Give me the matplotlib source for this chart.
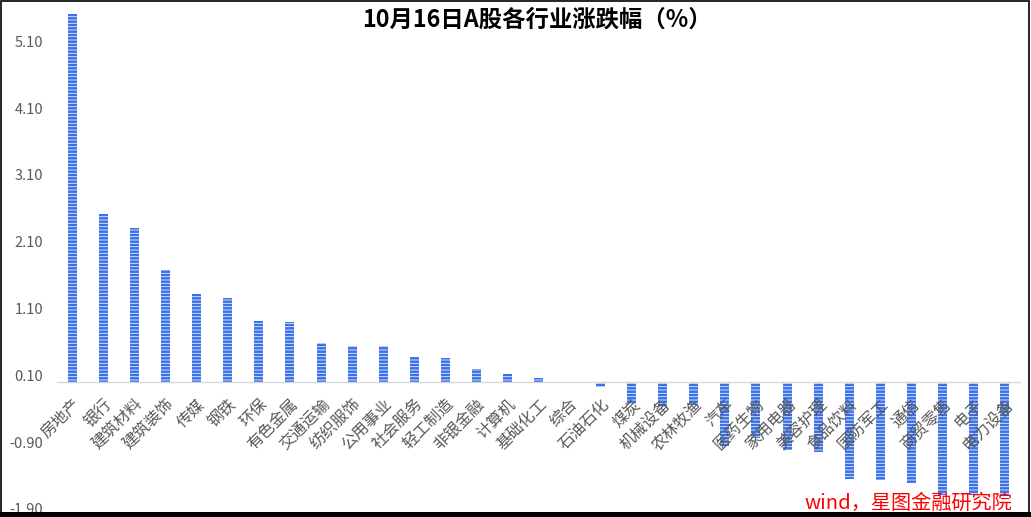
import matplotlib
matplotlib.use("Agg")
import matplotlib.pyplot as plt
import numpy as np
from matplotlib.patches import Rectangle

plt.rcParams['font.family'] = ['Noto Sans CJK SC', 'DejaVu Sans']
plt.rcParams['hatch.linewidth'] = 1.8

# industry names and daily change (%)
industries = ['房地产', '银行', '建筑材料', '建筑装饰', '传媒', '钢铁', '环保', '有色金属',
              '交通运输', '纺织服饰', '公用事业', '社会服务', '轻工制造', '非银金融', '计算机',
              '基础化工', '综合', '石油石化', '煤炭', '机械设备', '农林牧渔', '汽车', '医药生物',
              '家用电器', '美容护理', '食品饮料', '国防军工', '通信', '商贸零售', '电子', '电力设备']
changes = [5.51, 2.52, 2.30, 1.68, 1.32, 1.26, 0.91, 0.90,
           0.59, 0.54, 0.54, 0.37, 0.36, 0.20, 0.12,
           0.06, -0.02, -0.07, -0.33, -0.37, -0.35, -0.95, -0.84,
           -1.01, -1.04, -1.45, -1.47, -1.51, -1.69, -1.69, -1.71]
y_ticks = [-1.9, -0.9, 0.1, 1.1, 2.1, 3.1, 4.1, 5.1]

title = '10月16日A股各行业涨跌幅（%）'
source = 'wind，星图金融研究院'

W, H = 1031, 517
fig = plt.figure(figsize=(W / 100, H / 100), dpi=100)
ax = fig.add_axes([57 / W, 8 / H, 963 / W, 501 / H])

x = np.arange(len(industries))
ax.bar(x, changes, width=0.29, facecolor='#e9f0fd', edgecolor='#3a70e8',
       hatch='-----', linewidth=0, zorder=2)

# the category axis sits on zero; move the spine before styling the ticks
for side in ['top', 'right', 'left']:
    ax.spines[side].set_visible(False)
ax.spines['bottom'].set_position(('data', 0))
ax.spines['bottom'].set_color('#d9d9d9')
ax.spines['bottom'].set_linewidth(1)
ax.set_axisbelow(False)  # labels are drawn over the bars, as in the source

ax.set_xlim(-0.5, len(industries) - 0.5)
ax.set_ylim(-1.9, 5.6)

ax.set_yticks(y_ticks)
ax.set_yticklabels(['%.2f' % v for v in y_ticks], fontsize=10.5, color='#595959')
ax.tick_params(axis='y', length=0, pad=10)

ax.set_xticks(x)
ax.set_xticklabels(industries, rotation=45, ha='right', rotation_mode='anchor',
                   fontsize=11.5, color='#595959')
ax.tick_params(axis='x', length=0, pad=10)

fig.text(537 / W, 1 - 20 / H, title, ha='center', va='center',
         fontsize=16.8, fontweight='bold', color='black')
fig.text(1012 / W, 14 / H, source, ha='right', va='center',
         fontsize=14.5, color='#ff0000', style='italic', zorder=5)

# screenshot frame
fig.add_artist(Rectangle((0.5 / W, 0), 1 - 3 / W, 1 - 1 / H, transform=fig.transFigure,
                         fill=False, edgecolor='black', linewidth=1.2, zorder=10))
fig.add_artist(Rectangle((0, 0), 1, 5 / H, transform=fig.transFigure,
                         facecolor='black', edgecolor='none', zorder=10))

plt.savefig('out.png', dpi=100)
